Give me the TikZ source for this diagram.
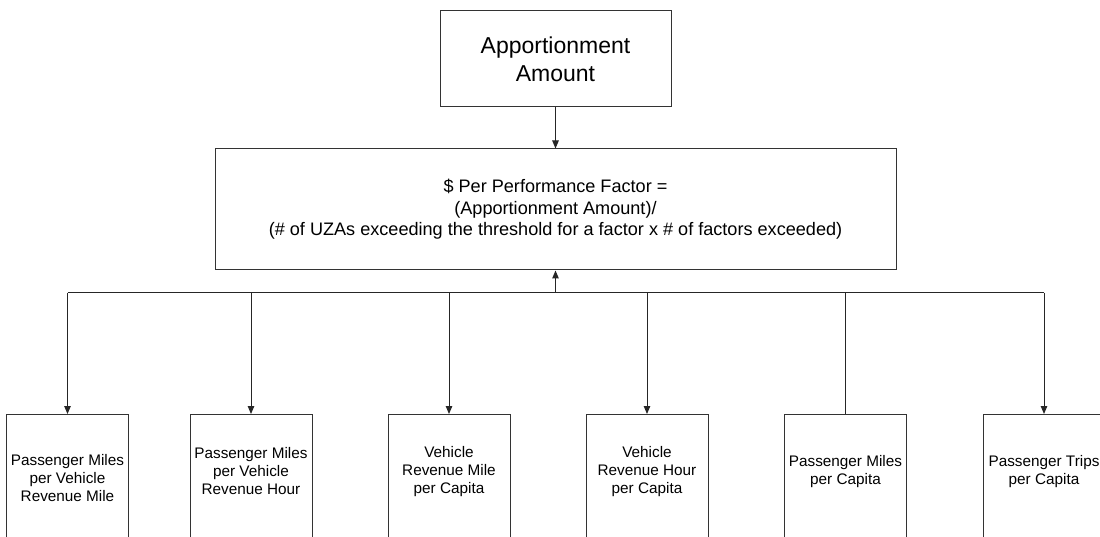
\documentclass[tikz,border=0pt]{standalone}
\usepackage{fontspec}
\setmainfont{Liberation Sans}
\usetikzlibrary{arrows.meta}
\begin{document}
\begin{tikzpicture}[x=1pt,y=-1pt,
  box/.style={draw=black!80, line width=1pt, inner sep=0pt},
  factor/.style={box, anchor=north, minimum width=122pt, minimum height=150pt},
  lbl/.style={align=center, font=\fontsize{15.3}{18}\selectfont, inner sep=0pt},
  link/.style={draw=black!85, line width=1pt},
  arr/.style={link, -{Triangle[length=8pt,width=6.5pt]}}]
\clip (0,0) rectangle (1100,537);
\useasboundingbox (0,0) rectangle (1100,537);

% top and middle boxes
\node[box, minimum width=231pt, minimum height=96pt, align=center,
      font=\fontsize{23}{28}\selectfont] (amt) at (555.5,59) {Apportionment\\Amount};
\node[box, minimum width=681pt, minimum height=121pt, align=center,
      font=\fontsize{18.1}{21.5}\selectfont] (ppf) at (555.5,209.5)
  {\$ Per Performance Factor =\\(Apportionment Amount)/\\(\# of UZAs exceeding the threshold for a factor x \# of factors exceeded)};

% factor boxes
\node[factor] (f1) at (67.5,414) {};
\node[factor] (f2) at (251,414) {};
\node[factor] (f3) at (449,414) {};
\node[factor] (f4) at (647,414) {};
\node[factor] (f5) at (845.5,414) {};
\node[factor] (f6) at (1044,414) {};

\node[lbl] (t1) at (67.5,478) {Passenger Miles\\per Vehicle\\Revenue Mile};
\node[lbl] (t2) at (251,471) {Passenger Miles\\per Vehicle\\Revenue Hour};
\node[lbl] (t3) at (449,472) {Vehicle\\Revenue Mile\\per Capita};
\node[lbl] (t4) at (647,472) {Vehicle\\Revenue Hour\\per Capita};
\node[lbl] (t5) at (845.5,472) {Passenger Miles\\per Capita};
\node[lbl] (t6) at (1044,472) {Passenger Trips\\per Capita};

% connectors
\coordinate (bus) at (ppf.south |- 0,293);
\draw[arr] (amt.south) -- (ppf.north);
\draw[arr] (bus) -- (ppf.south);
\draw[link] (f1.north |- bus) -- (f6.north |- bus);
\draw[arr] (f1.north |- bus) -- (f1.north);
\draw[arr] (f2.north |- bus) -- (f2.north);
\draw[arr] (f3.north |- bus) -- (f3.north);
\draw[arr] (f4.north |- bus) -- (f4.north);
\draw[link] (f5.north |- bus) -- (f5.north);
\draw[arr] (f6.north |- bus) -- (f6.north);
\end{tikzpicture}
\end{document}
